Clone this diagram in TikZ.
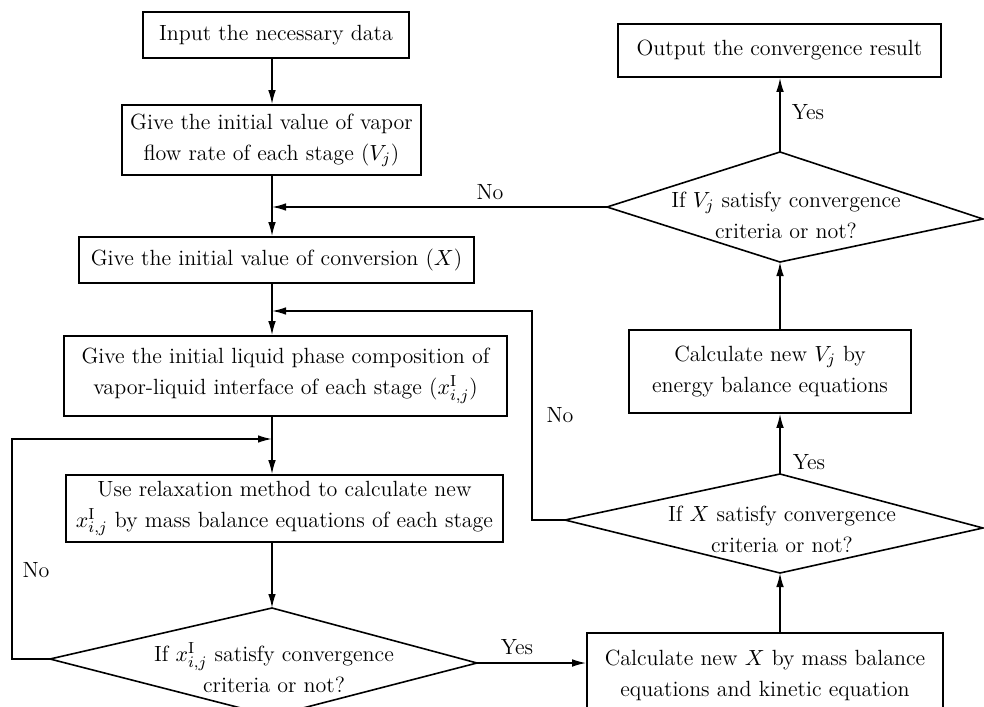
\documentclass[tikz,border=0pt]{standalone}
\usetikzlibrary{arrows.meta,calc}
\begin{document}
\begin{tikzpicture}[x=0.5pt,y=-0.5pt,
  txt/.style={font=\fontsize{11}{15.5}\selectfont},
  box/.style={draw, line width=0.8pt, inner sep=0pt, align=center, txt},
  ln/.style={draw, line width=0.8pt, line join=miter},
  arr/.style={ln, -{Latex[length=7pt,width=3.8pt]}},
  lbl/.style={txt, inner sep=0pt, align=center}]
\useasboundingbox (0,0) rectangle (984,706);
\clip (0,0) rectangle (984,706);
% reference columns
\coordinate (tk) at (272,0);
\coordinate (rc) at (780,0);
% boxes
\node[box, minimum width=133pt, minimum height=23pt] (b1) at (276,35) {Input the necessary data};
\node[box, minimum width=149.5pt, minimum height=35pt] (b2) at (271.5,140) {Give the initial value of vapor\\flow rate of each stage ($V_j$)};
\node[box, minimum width=197.5pt, minimum height=23pt] (b3) at (276.5,260) {Give the initial value of conversion ($X$)};
\node[box, minimum width=221.5pt, minimum height=40pt] (b4) at (285.5,376) {Give the initial liquid phase composition of\\vapor-liquid interface of each stage ($x^{\mathrm{I}}_{i,j}$)};
\node[box, minimum width=218.5pt, minimum height=33.5pt] (b5) at (284.5,508.5) {Use relaxation method to calculate new\\$x^{\mathrm{I}}_{i,j}$ by mass balance equations of each stage};
\node[box, minimum width=178pt, minimum height=42pt] (b6) at (765,675) {Calculate new $X$ by mass balance\\equations and kinetic equation};
\node[box, minimum width=141pt, minimum height=41.5pt] (b7) at (770,371.5) {Calculate new $V_j$ by\\energy balance equations};
\node[box, minimum width=161.5pt, minimum height=26.5pt] (b8) at (779.5,50.5) {Output the convergence result};
% diamond 1
\coordinate (dL) at (50,659);
\coordinate (dT) at (272,608);
\coordinate (dR) at (477,663);
\coordinate (dB) at (272,716);
\draw[ln] (dL) -- (dT) -- (dR) -- (dB) -- cycle;
\node[lbl] (dtx) at (274,668) {If $x^{\mathrm{I}}_{i,j}$ satisfy convergence\\criteria or not?};
% diamond X
\coordinate (xL) at (565,520);
\coordinate (xT) at (780,474);
\coordinate (xR) at (983,528);
\coordinate (xB) at (780,573);
\draw[ln] (xL) -- (xT) -- (xR) -- (xB) -- cycle;
\node[lbl] (xtx) at (782,529) {If $X$ satisfy convergence\\criteria or not?};
% diamond V
\coordinate (vL) at (607,207);
\coordinate (vT) at (780,152);
\coordinate (vR) at (983,219);
\coordinate (vB) at (780,262);
\draw[ln] (vL) -- (vT) -- (vR) -- (vB) -- cycle;
\node[lbl] (vtx) at (786,215) {If $V_j$ satisfy convergence\\criteria or not?};
% main trunk
\draw[arr] (b1.south -| tk) -- (b2.north -| tk);
\draw[arr] (b2.south -| tk) -- (b3.north -| tk);
\draw[arr] (b3.south -| tk) -- (b4.north -| tk);
\draw[arr] (b4.south -| tk) -- (b5.north -| tk);
\draw[arr] (b5.south -| tk) -- (dT);
% loops
\coordinate (lp2) at (532,311);
\coordinate (lp3) at (12,439);
\draw[arr] (vL) -- (vL -| tk);
\draw[arr] (xL) -| (lp2) -- (lp2 -| tk);
\draw[arr] (dL) -| (lp3) -- (lp3 -| tk);
% right column
\draw[arr] (dR) -- (dR -| b6.west);
\draw[arr] (b6.north -| rc) -- (xB);
\draw[arr] (xT) -- (b7.south -| rc);
\draw[arr] (b7.north -| rc) -- (vB);
\draw[arr] (vT) -- (b8.south -| rc);
% labels
\node[lbl] (no1) at (490,192) {No};
\node[lbl] (no2) at (560,415) {No};
\node[lbl] (no3) at (36,570) {No};
\node[lbl] (yes1) at (517,647) {Yes};
\node[lbl] (yes2) at (809,462) {Yes};
\node[lbl] (yes3) at (808,112) {Yes};
\end{tikzpicture}
\end{document}
